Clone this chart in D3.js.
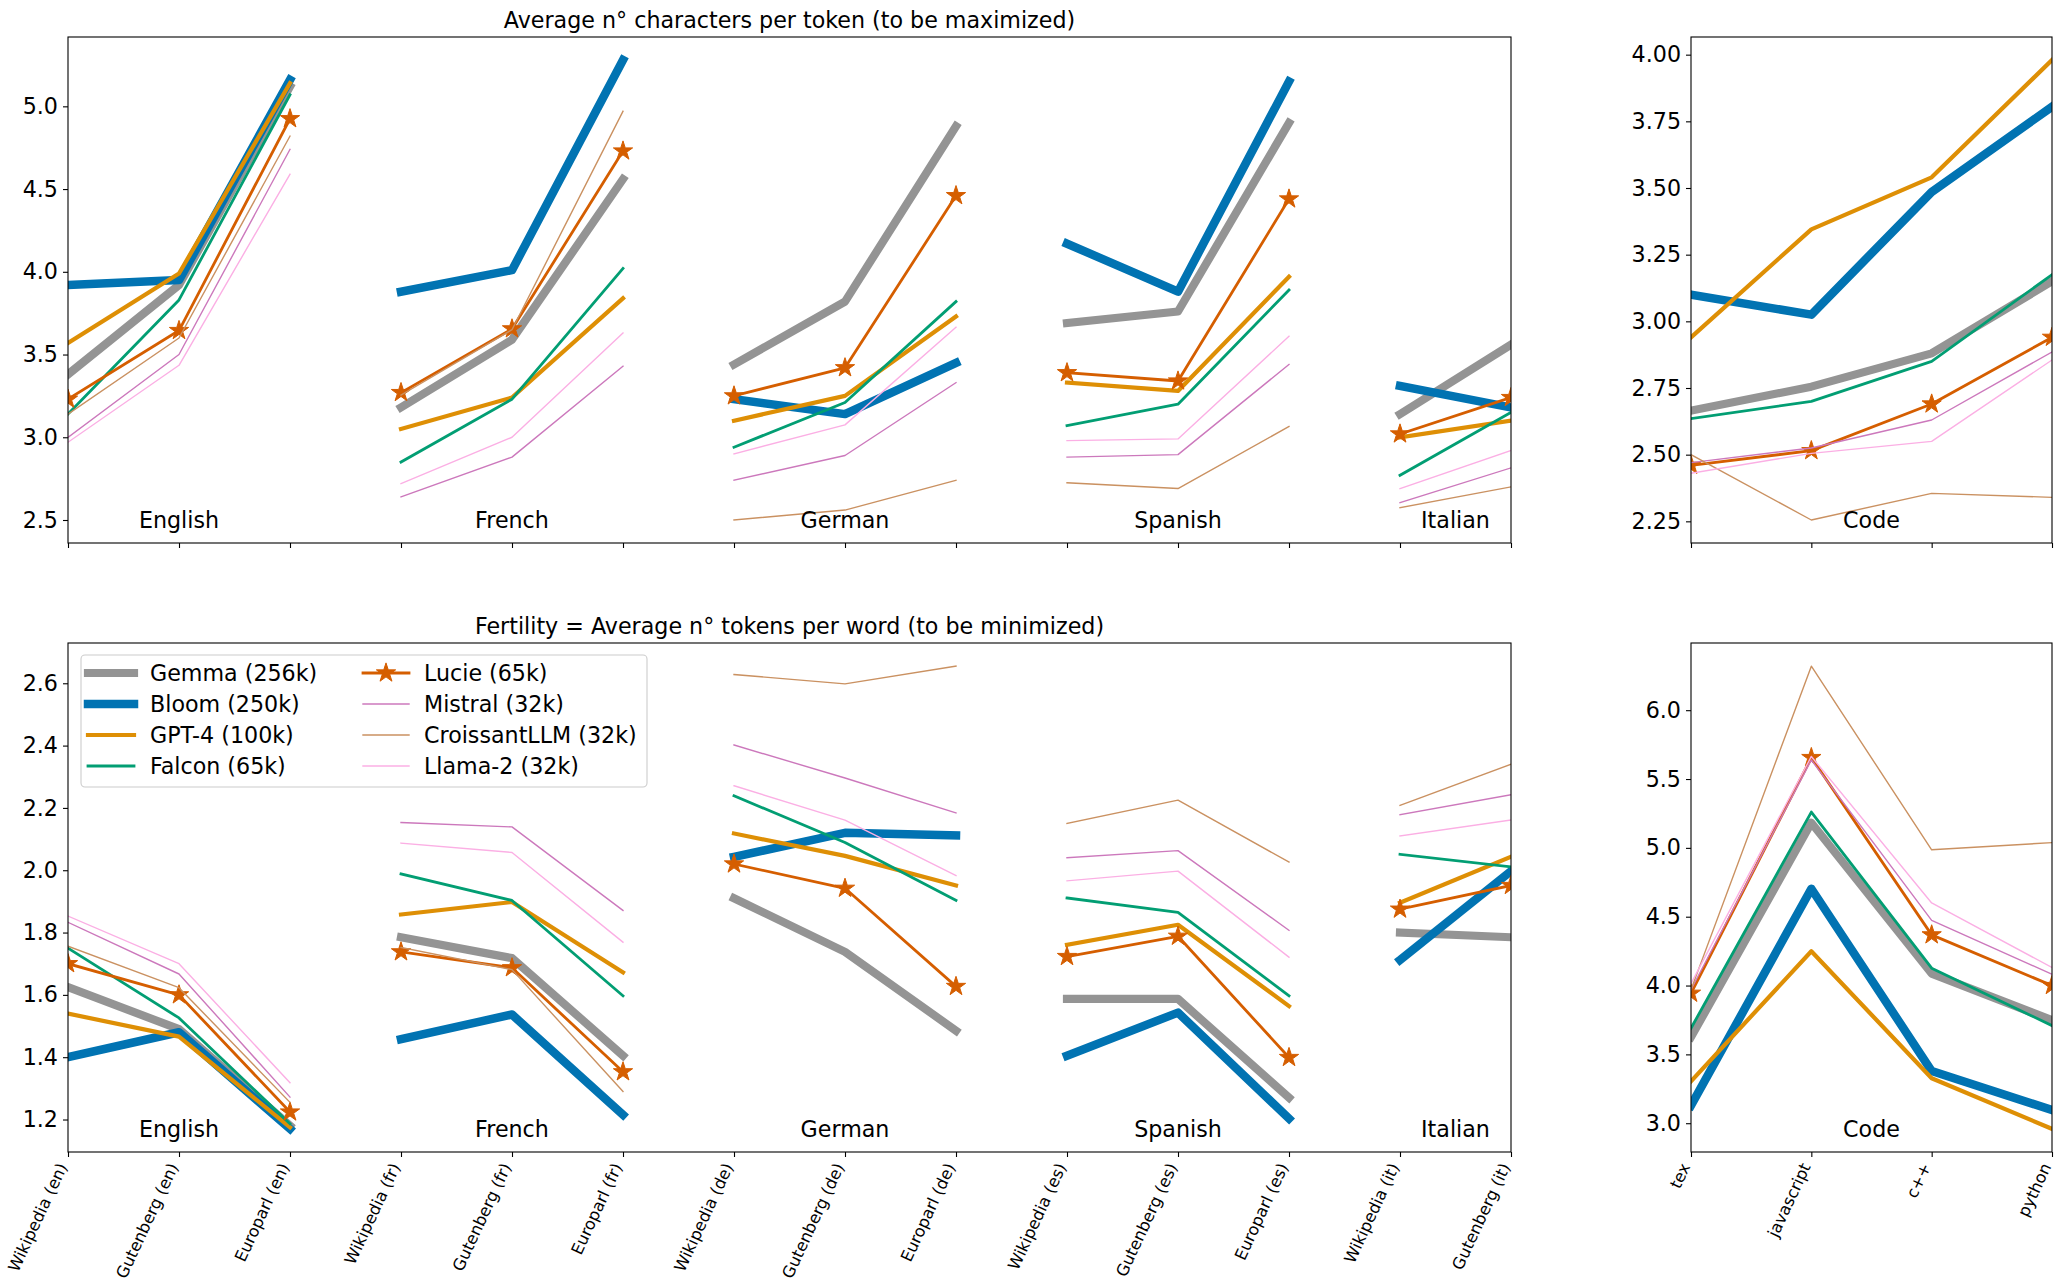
<!DOCTYPE html>
<html>
<head>
<meta charset="utf-8">
<script src="https://cdn.jsdelivr.net/npm/d3@7"></script>
<style>
  body { margin: 0; background: #ffffff; }
  text { font-family: "DejaVu Sans", sans-serif; fill: #000; }
</style>
</head>
<body>
<svg id="chart" width="2055" height="1286"></svg>
<script>
// ---------------- DATA ----------------
const textCategories = [
  "Wikipedia (en)", "Gutenberg (en)", "Europarl (en)",
  "Wikipedia (fr)", "Gutenberg (fr)", "Europarl (fr)",
  "Wikipedia (de)", "Gutenberg (de)", "Europarl (de)",
  "Wikipedia (es)", "Gutenberg (es)", "Europarl (es)",
  "Wikipedia (it)", "Gutenberg (it)"
];
const codeCategories = ["tex", "javascript", "c++", "python"];
const languages = ["English", "French", "German", "Spanish", "Italian"];
const languageGroups = [[0, 1, 2], [3, 4, 5], [6, 7, 8], [9, 10, 11], [12, 13]];
const models = ["Gemma (256k)", "Bloom (250k)", "GPT-4 (100k)", "Falcon (65k)",
                "Lucie (65k)", "Mistral (32k)", "CroissantLLM (32k)", "Llama-2 (32k)"];

// Average n° characters per token, text corpora (rows follow `models`)
const charsText = [
  [3.38, 3.92, 5.12, 3.18, 3.59, 4.56, 3.44, 3.82, 4.88, 3.69, 3.76, 4.90, 3.14, 3.56],
  [3.92, 3.95, 5.16, 3.88, 4.01, 5.28, 3.23, 3.14, 3.45, 4.17, 3.88, 5.15, 3.31, 3.18],
  [3.57, 3.99, 5.14, 3.05, 3.24, 3.84, 3.10, 3.25, 3.73, 3.33, 3.28, 3.97, 3.00, 3.10],
  [3.14, 3.83, 5.07, 2.85, 3.23, 4.02, 2.94, 3.21, 3.82, 3.07, 3.20, 3.89, 2.77, 3.15],
  [3.23, 3.645, 4.925, 3.27, 3.655, 4.73, 3.25, 3.42, 4.46, 3.39, 3.34, 4.44, 3.02, 3.24],
  [3.00, 3.50, 4.74, 2.64, 2.88, 3.43, 2.74, 2.89, 3.33, 2.88, 2.895, 3.44, 2.605, 2.815],
  [3.14, 3.60, 4.82, 3.255, 3.65, 4.97, 2.50, 2.56, 2.74, 2.725, 2.69, 3.065, 2.575, 2.70],
  [2.97, 3.435, 4.59, 2.72, 3.00, 3.63, 2.90, 3.075, 3.665, 2.98, 2.99, 3.61, 2.69, 2.92]
];
// Average n° characters per token, code
const charsCode = [
  [2.665, 2.755, 2.88, 3.15],
  [3.10, 3.025, 3.485, 3.805],
  [2.94, 3.345, 3.54, 3.98],
  [2.635, 2.70, 2.85, 3.175],
  [2.46, 2.515, 2.69, 2.94],
  [2.47, 2.525, 2.63, 2.885],
  [2.50, 2.255, 2.355, 2.34],
  [2.43, 2.505, 2.55, 2.855]
];
// Fertility, text corpora
const fertilityText = [
  [1.625, 1.49, 1.18, 1.785, 1.718, 1.405, 1.91, 1.738, 1.485, 1.587, 1.587, 1.27, 1.80, 1.785],
  [1.40, 1.48, 1.17, 1.458, 1.537, 1.215, 2.043, 2.12, 2.112, 1.405, 1.543, 1.203, 1.712, 1.997],
  [1.54, 1.466, 1.175, 1.858, 1.898, 1.672, 2.118, 2.046, 1.951, 1.761, 1.825, 1.564, 1.896, 2.043],
  [1.75, 1.526, 1.186, 1.988, 1.903, 1.597, 2.239, 2.089, 1.903, 1.911, 1.865, 1.597, 2.051, 2.011],
  [1.70, 1.60, 1.224, 1.738, 1.687, 1.353, 2.02, 1.942, 1.627, 1.723, 1.788, 1.399, 1.875, 1.951],
  [1.833, 1.667, 1.272, 2.153, 2.139, 1.871, 2.402, 2.296, 2.184, 2.04, 2.063, 1.807, 2.178, 2.242],
  [1.756, 1.623, 1.255, 1.752, 1.681, 1.29, 2.628, 2.598, 2.655, 2.15, 2.225, 2.026, 2.208, 2.34],
  [1.853, 1.70, 1.318, 2.087, 2.057, 1.769, 2.271, 2.161, 1.983, 1.966, 1.997, 1.721, 2.11, 2.161]
];
// Fertility, code
const fertilityCode = [
  [3.626, 5.182, 4.087, 3.748],
  [3.128, 4.703, 3.379, 3.096],
  [3.305, 4.249, 3.327, 2.959],
  [3.69, 5.26, 4.126, 3.709],
  [3.944, 5.656, 4.368, 4.0],
  [3.97, 5.638, 4.473, 4.082],
  [3.97, 6.32, 4.986, 5.038],
  [4.014, 5.664, 4.60, 4.131]
];
const ticksCharsText = [2.5, 3.0, 3.5, 4.0, 4.5, 5.0];
const ticksCharsCode = [2.25, 2.50, 2.75, 3.00, 3.25, 3.50, 3.75, 4.00];
const ticksFertText = [1.2, 1.4, 1.6, 1.8, 2.0, 2.2, 2.4, 2.6];
const ticksFertCode = [3.0, 3.5, 4.0, 4.5, 5.0, 5.5, 6.0];
const titleTop = "Average n° characters per token (to be maximized)";
const titleBottom = "Fertility = Average n° tokens per word (to be minimized)";

// ---------------- STYLE ----------------
const colors = ["#949494", "#0173b2", "#de8f05", "#029e73", "#d55e00", "#cc78bc", "#ca9161", "#fbafe4"];
const widths = [8.2, 8.5, 4.2, 2.8, 2.8, 1.4, 1.4, 1.4];
const starred = [false, false, false, false, true, false, false, false];
const FONT = 22.2, XFONT = 16.3;

const svg = d3.select("#chart");
const starPath = d3.symbol().type(d3.symbolStar).size(115)();

const layout = {
  leftX: [68, 1511], rightX: [1691, 2052],
  topY: [37, 543], botY: [643, 1152]
};

function paddedDomain(rows) {
  const all = rows.flat();
  const lo = d3.min(all), hi = d3.max(all), pad = (hi - lo) * 0.05;
  return [lo - pad, hi + pad];
}

let clipId = 0;
function drawPanel(opt) {
  const [x0, x1] = opt.xr, [y0, y1] = opt.yr;
  const n = opt.categories.length;
  const x = d3.scaleLinear().domain([0, n - 1]).range([x0, x1]);
  const y = d3.scaleLinear().domain(paddedDomain(opt.rows)).range([y1, y0]);
  const g = svg.append("g");

  const id = "clip" + (clipId++);
  svg.append("clipPath").attr("id", id)
    .append("rect").attr("x", x0).attr("y", y0).attr("width", x1 - x0).attr("height", y1 - y0);

  // y axis
  const yAxis = d3.axisLeft(y).tickValues(opt.yticks).tickFormat(d3.format(opt.fmt))
    .tickSizeOuter(0).tickSize(5).tickPadding(5);
  const ya = g.append("g").attr("transform", `translate(${x0},0)`).call(yAxis);
  ya.select(".domain").remove();
  ya.selectAll("text").attr("font-size", FONT).attr("font-family", "DejaVu Sans");
  ya.selectAll("line").attr("stroke-width", 1.1);

  // x axis
  const xAxis = d3.axisBottom(x).tickValues(d3.range(n)).tickFormat(i => opt.categories[i])
    .tickSizeOuter(0).tickSize(5);
  const xa = g.append("g").attr("transform", `translate(0,${y1})`).call(xAxis);
  xa.select(".domain").remove();
  xa.selectAll("line").attr("stroke-width", 1.1);
  if (opt.showLabels) {
    xa.selectAll("text")
      .attr("font-size", XFONT).attr("font-family", "DejaVu Sans")
      .attr("text-anchor", "end")
      .attr("x", 0).attr("y", 0).attr("dy", "0.35em")
      .attr("transform", "translate(-6,12) rotate(-65)");
  } else {
    xa.selectAll("text").remove();
  }

  // lines
  const line = d3.line().x(d => x(d[0])).y(d => y(d[1]));
  const plot = g.append("g").attr("clip-path", `url(#${id})`);
  opt.rows.forEach((row, m) => {
    opt.groups.forEach(grp => {
      const pts = grp.map(i => [i, row[i]]);
      plot.append("path").attr("d", line(pts))
        .attr("fill", "none").attr("stroke", colors[m]).attr("stroke-width", widths[m])
        .attr("stroke-linejoin", "round").attr("stroke-linecap", "square");
      if (starred[m]) {
        pts.forEach(p => {
          plot.append("path").attr("d", starPath)
            .attr("transform", `translate(${x(p[0])},${y(p[1])})`)
            .attr("fill", colors[m]).attr("stroke", colors[m]).attr("stroke-width", 1);
        });
      }
    });
  });

  // group labels
  opt.groupLabels.forEach((lab, k) => {
    g.append("text").attr("x", x(opt.groupLabelPos[k])).attr("y", y1 - 15)
      .attr("text-anchor", "middle").attr("font-size", FONT).text(lab);
  });

  // frame
  g.append("rect").attr("x", x0).attr("y", y0).attr("width", x1 - x0).attr("height", y1 - y0)
    .attr("fill", "none").attr("stroke", "#000").attr("stroke-width", 1.1);

  if (opt.title) {
    svg.append("text").attr("x", (x0 + x1) / 2).attr("y", y0 - 9)
      .attr("text-anchor", "middle").attr("font-size", FONT).text(opt.title);
  }
  return g;
}

const langPos = languageGroups.map(gp => d3.mean(gp));

drawPanel({ xr: layout.leftX, yr: layout.topY, categories: textCategories, rows: charsText,
  groups: languageGroups, yticks: ticksCharsText, fmt: ".1f", showLabels: false,
  groupLabels: languages, groupLabelPos: langPos, title: titleTop });
drawPanel({ xr: layout.rightX, yr: layout.topY, categories: codeCategories, rows: charsCode,
  groups: [d3.range(codeCategories.length)], yticks: ticksCharsCode, fmt: ".2f", showLabels: false,
  groupLabels: ["Code"], groupLabelPos: [(codeCategories.length - 1) / 2] });
drawPanel({ xr: layout.leftX, yr: layout.botY, categories: textCategories, rows: fertilityText,
  groups: languageGroups, yticks: ticksFertText, fmt: ".1f", showLabels: true,
  groupLabels: languages, groupLabelPos: langPos, title: titleBottom });
drawPanel({ xr: layout.rightX, yr: layout.botY, categories: codeCategories, rows: fertilityCode,
  groups: [d3.range(codeCategories.length)], yticks: ticksFertCode, fmt: ".1f", showLabels: true,
  groupLabels: ["Code"], groupLabelPos: [(codeCategories.length - 1) / 2] });

// ---------------- LEGEND ----------------
const leg = svg.append("g");
leg.append("rect").attr("x", 81).attr("y", 655).attr("width", 566).attr("height", 132)
  .attr("rx", 4).attr("fill", "#fff").attr("fill-opacity", 0.8)
  .attr("stroke", "#cccccc").attr("stroke-width", 1.1);
models.forEach((name, m) => {
  const col = Math.floor(m / 4), row = m % 4;
  const hx0 = col === 0 ? 88 : 363, tx = col === 0 ? 150 : 424;
  const cy = 673 + row * 31;
  leg.append("line").attr("x1", hx0).attr("x2", hx0 + 46).attr("y1", cy).attr("y2", cy)
    .attr("stroke", colors[m]).attr("stroke-width", widths[m]).attr("stroke-linecap", "square");
  if (starred[m]) {
    leg.append("path").attr("d", starPath).attr("transform", `translate(${hx0 + 23},${cy})`)
      .attr("fill", colors[m]).attr("stroke", colors[m]).attr("stroke-width", 1);
  }
  leg.append("text").attr("x", tx).attr("y", cy).attr("dy", "0.35em")
    .attr("font-size", FONT).text(name);
});
</script>
</body>
</html>
